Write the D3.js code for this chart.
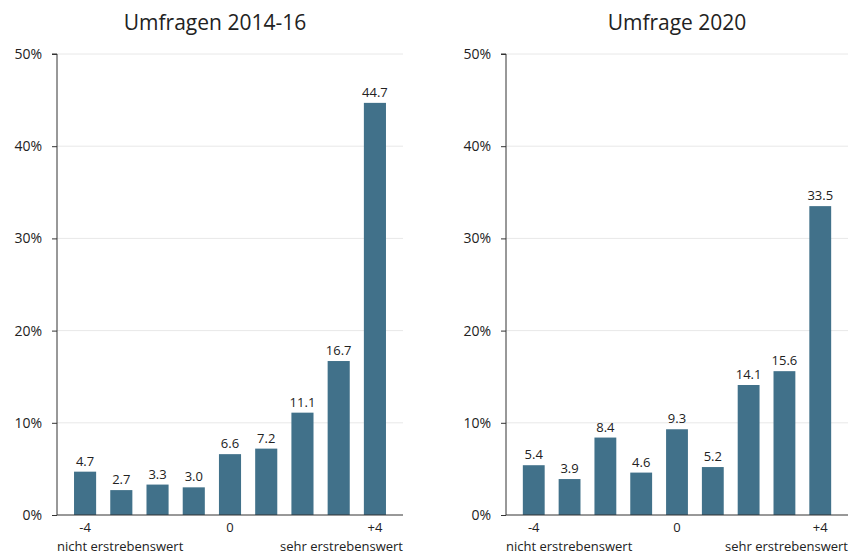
<!DOCTYPE html>
<html>
<head>
<meta charset="utf-8">
<script src="https://cdn.jsdelivr.net/npm/d3@7"></script>
<style>
  body { margin: 0; background: #fff; }
  text { font-family: "Open Sans", "Noto Sans", sans-serif; fill: #222; }
</style>
</head>
<body>
<svg></svg>
<script>
var categories = ["-4", "-3", "-2", "-1", "0", "1", "2", "3", "4"];
var values2014 = [4.7, 2.7, 3.3, 3.0, 6.6, 7.2, 11.1, 16.7, 44.7];
var values2020 = [5.4, 3.9, 8.4, 4.6, 9.3, 5.2, 14.1, 15.6, 33.5];
var shownTicks = { "-4": "-4", "0": "0", "4": "+4" };
var yTicks = [0, 10, 20, 30, 40, 50];
var titles = ["Umfragen 2014-16", "Umfrage 2020"];
var lowLabel = "nicht erstrebenswert";
var highLabel = "sehr erstrebenswert";

var width = 850;
var height = 555;

var svg = d3.select("svg")
    .attr("width", width)
    .attr("height", height);

var y = d3.scaleLinear().domain([0, 50]).range([515, 54]);

var panels = [
  { title: titles[0], values: values2014, x0: 57, x1: 403, titleX: 215 },
  { title: titles[1], values: values2020, x0: 506, x1: 848, titleX: 677 }
];

panels.forEach(function (p) {
  var g = svg.append("g");

  var x = d3.scaleBand()
      .domain(categories)
      .range([p.x0, p.x1])
      .paddingInner(0.39)
      .paddingOuter(0.47);

  // grid
  g.selectAll(".grid")
    .data(yTicks.slice(1))
    .enter()
    .append("line")
      .attr("x1", p.x0)
      .attr("x2", p.x1)
      .attr("y1", function (d) { return y(d); })
      .attr("y2", function (d) { return y(d); })
      .attr("stroke", "#e8e8e8")
      .attr("stroke-width", 1);

  // y axis
  var yAxis = g.append("g")
      .attr("transform", "translate(" + p.x0 + ",0)")
      .call(d3.axisLeft(y).tickValues(yTicks).tickSize(5).tickPadding(10)
        .tickFormat(function (d) { return d + "%"; }));
  yAxis.select(".domain").attr("stroke", "#333").attr("d", "M-5," + y(50) + "H0V" + y(0));
  yAxis.selectAll(".tick line").attr("stroke", "#333");
  yAxis.selectAll(".tick text").style("font-size", "14px").attr("fill", "#222");

  // bars
  g.selectAll(".bar")
    .data(p.values)
    .enter()
    .append("rect")
      .attr("x", function (d, i) { return x(categories[i]); })
      .attr("y", function (d) { return y(d); })
      .attr("width", x.bandwidth())
      .attr("height", function (d) { return y(0) - y(d); })
      .attr("fill", "#41718a");

  g.selectAll(".val")
    .data(p.values)
    .enter()
    .append("text")
      .attr("x", function (d, i) { return x(categories[i]) + x.bandwidth() / 2; })
      .attr("y", function (d) { return y(d) - 6; })
      .attr("text-anchor", "middle")
      .style("font-size", "13px")
      .text(function (d) { return d.toFixed(1); });

  // x axis baseline
  g.append("line")
      .attr("x1", p.x0)
      .attr("x2", p.x1)
      .attr("y1", y(0))
      .attr("y2", y(0))
      .attr("stroke", "#333");

  g.selectAll(".xt")
    .data(categories.filter(function (c) { return shownTicks[c] !== undefined; }))
    .enter()
    .append("text")
      .attr("x", function (d) { return x(d) + x.bandwidth() / 2; })
      .attr("y", 532)
      .attr("text-anchor", "middle")
      .style("font-size", "13px")
      .text(function (d) { return shownTicks[d]; });

  g.append("text")
      .attr("x", p.x0)
      .attr("y", 551)
      .style("font-size", "13px")
      .text(lowLabel);

  g.append("text")
      .attr("x", p.x1)
      .attr("y", 551)
      .attr("text-anchor", "end")
      .style("font-size", "13px")
      .text(highLabel);

  g.append("text")
      .attr("x", p.titleX)
      .attr("y", 30)
      .attr("text-anchor", "middle")
      .style("font-size", "21px")
      .text(p.title);
});
</script>
</body>
</html>
